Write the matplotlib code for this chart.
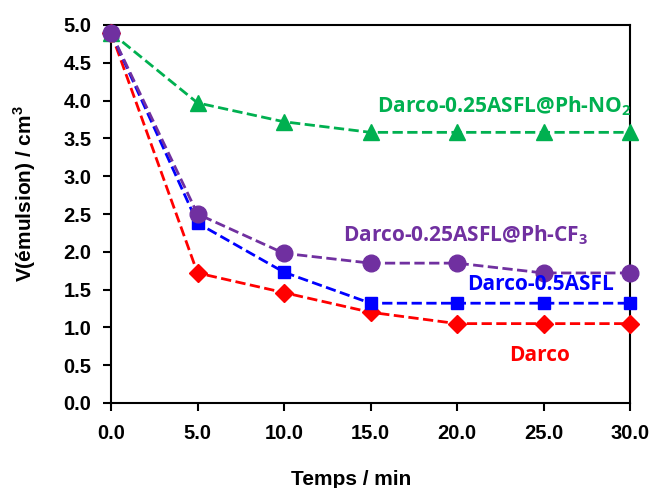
import matplotlib.pyplot as plt

temps = [0, 5, 10, 15, 20, 25, 30]
v_no2 = [4.90, 3.97, 3.72, 3.58, 3.58, 3.58, 3.58]
v_cf3 = [4.90, 2.50, 1.98, 1.85, 1.85, 1.72, 1.72]
v_asfl = [4.90, 2.38, 1.73, 1.32, 1.32, 1.32, 1.32]
v_darco = [4.90, 1.72, 1.46, 1.20, 1.05, 1.05, 1.05]

fig = plt.figure(figsize=(6.53, 4.88), dpi=100)
ax = fig.add_axes([111 / 653, 85 / 488, 519 / 653, 378 / 488])

ax.plot(temps, v_darco, ls="--", lw=2, color="#FF0000", marker="D", ms=9, clip_on=False, zorder=3)
ax.plot(temps, v_asfl, ls="--", lw=2, color="#0000FF", marker="s", ms=8, clip_on=False, zorder=3)
ax.plot(temps, v_no2, ls="--", lw=2, color="#00B050", marker="^", ms=11, clip_on=False, zorder=3)
ax.plot(temps, v_cf3, ls="--", lw=2, color="#7030A0", marker="o", ms=12, clip_on=False, zorder=3)

ax.set_xlim(0, 30)
ax.set_ylim(0, 5)
ax.set_xticks(temps)
ax.set_xticklabels([f"{t:.1f}" for t in temps])
ax.set_yticks([i * 0.5 for i in range(11)])
ax.set_yticklabels([f"{i * 0.5:.1f}" for i in range(11)])
ax.tick_params(direction="out", length=6, width=1.5, labelsize=14.5)
ax.tick_params(axis="y", pad=8)
ax.tick_params(axis="x", pad=9)
for lab in ax.get_xticklabels() + ax.get_yticklabels():
    lab.set_fontweight("bold")
    lab.set_fontfamily("Liberation Sans")
for sp in ax.spines.values():
    sp.set_linewidth(1.5)

ax.set_xlabel("Temps / min", fontsize=15, fontweight="bold", family="Liberation Sans")
ax.xaxis.set_label_coords(0.462, -0.177)
ax.set_ylabel("V(émulsion) / cm$^\\mathregular{3}$", fontsize=15, fontweight="bold", family="Liberation Sans")
ax.yaxis.set_label_coords(-0.14, 0.553)

tf = dict(fontsize=15, fontweight="bold", family="Open Sans", va="center")
ax.text(15.4, 3.92, "Darco-0.25ASFL@Ph-NO$_\\mathregular{2}$", color="#00B050", ha="left", **tf)
ax.text(13.4, 2.22, "Darco-0.25ASFL@Ph-CF$_\\mathregular{3}$", color="#7030A0", ha="left", **tf)
ax.text(20.6, 1.57, "Darco-0.5ASFL", color="#0000FF", ha="left", **tf)
ax.text(24.8, 0.63, "Darco", color="#FF0000", ha="center", **tf)

fig.savefig("out.png", dpi=100)
